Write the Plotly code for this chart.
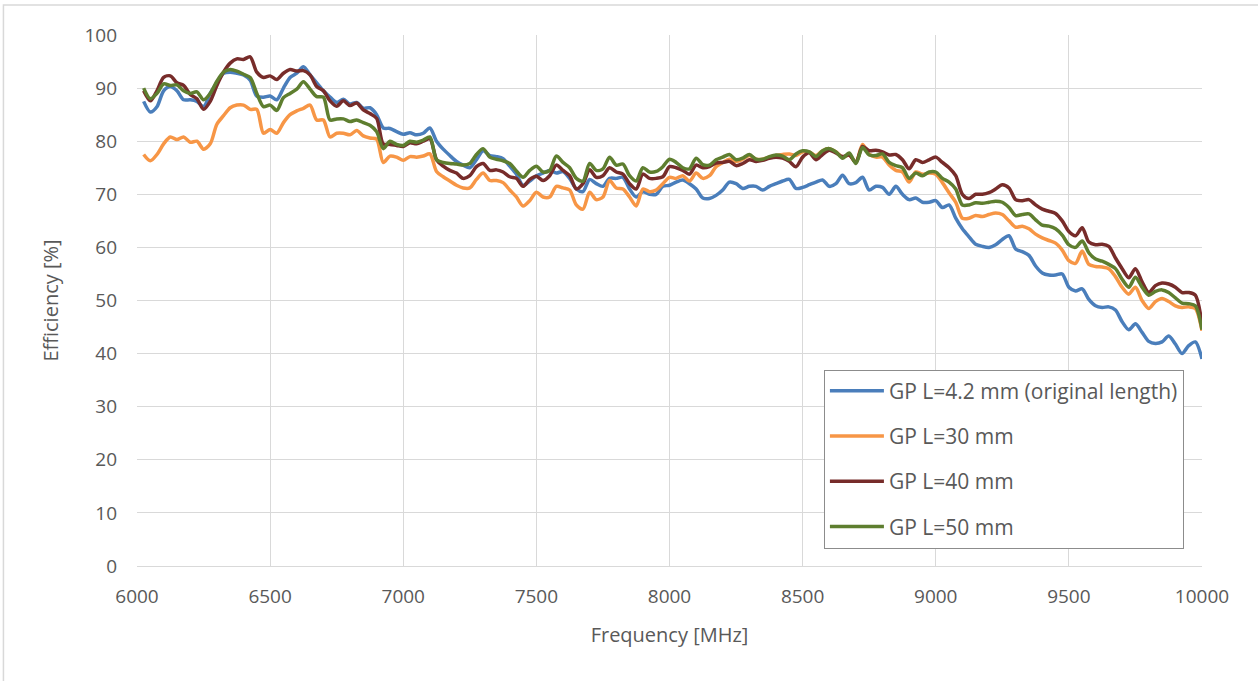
import plotly.graph_objects as go

# frequency sweep grid [MHz], 25 MHz steps
FREQ = list(range(6025, 10001, 25))

GP_4_2 = [
    87.5, 85.5, 86.5, 89.5, 90.3, 89.5, 87.8, 87.8, 87.5, 86.5, 89.0, 91.0,
    92.8, 93.0, 92.8, 92.5, 91.5, 88.5, 88.3, 88.5, 87.8, 90.0, 92.0, 92.8,
    94.0, 92.5, 91.0, 89.5, 88.3, 87.3, 87.9, 87.0, 87.3, 86.2, 86.3, 85.0,
    82.5, 82.4, 81.8, 81.3, 81.6, 81.2, 81.5, 82.5, 80.0, 78.5, 77.3, 76.2,
    75.5, 75.0, 76.5, 78.2, 77.3, 77.1, 76.7, 75.3, 73.8, 71.7, 72.5, 73.5,
    74.0, 74.5, 74.0, 74.3, 73.0, 71.0, 70.5, 72.8, 72.0, 71.5, 73.0, 73.0,
    73.2, 71.0, 69.5, 70.5, 70.0, 70.0, 71.5, 71.7, 72.3, 72.7, 72.0, 71.0,
    69.3, 69.2, 69.8, 70.8, 72.3, 72.0, 71.1, 71.5, 71.5, 70.8, 71.5, 72.0,
    72.5, 72.8, 71.1, 71.3, 71.8, 72.3, 72.7, 71.5, 72.0, 73.6, 72.0, 72.2,
    73.2, 70.8, 71.5, 71.3, 70.0, 71.5, 70.0, 69.0, 69.3, 68.5, 68.5, 68.8,
    67.5, 68.0, 65.5, 63.5, 62.0, 60.6, 60.2, 60.0, 60.5, 61.5, 62.2, 59.7,
    59.2, 58.5, 56.5, 55.2, 54.8, 54.8, 55.0, 52.5, 51.8, 52.2, 50.2, 49.0,
    48.7, 48.8, 48.2, 46.0, 44.5, 45.6, 44.0, 42.3, 41.9, 42.2, 43.3, 41.8,
    40.0, 41.5, 42.2, 39.0,
]

GP_30 = [
    77.5, 76.3, 77.5, 79.5, 80.8, 80.3, 80.8, 79.8, 80.0, 78.5, 79.5, 83.2,
    84.8, 86.3, 86.8, 86.8, 86.0, 86.0, 81.5, 82.2, 81.5, 83.5, 85.0, 85.7,
    86.2, 86.8, 84.0, 84.0, 80.8, 81.5, 81.5, 81.2, 82.0, 81.0, 80.6, 80.4,
    76.0, 77.2, 77.0, 76.4, 77.1, 77.0, 77.2, 77.6, 74.3, 73.3, 72.5, 71.7,
    71.2, 71.2, 72.8, 74.0, 72.6, 72.6, 72.2, 70.8, 69.5, 67.8, 68.8, 70.4,
    69.5, 69.5, 71.5, 71.2, 70.8, 68.0, 67.2, 70.4, 69.0, 69.5, 72.6, 71.2,
    71.0, 69.5, 67.8, 71.0, 70.5, 70.8, 72.0, 73.2, 73.0, 73.5, 72.5, 74.0,
    73.0, 73.5, 75.2, 76.0, 76.6, 76.2, 76.6, 77.3, 76.6, 76.6, 77.0, 77.3,
    77.5, 77.6, 77.3, 78.0, 78.0, 77.3, 78.2, 78.6, 78.0, 77.0, 77.4, 76.0,
    79.4, 77.5, 77.0, 77.0, 75.5, 74.5, 74.2, 72.3, 74.2, 73.8, 74.0, 73.8,
    72.2, 70.3, 68.5, 65.5, 65.5, 66.0, 65.8, 66.2, 66.5, 66.2, 65.0, 63.8,
    64.0, 63.5, 62.5, 61.8, 61.3, 60.8, 59.5, 57.5, 57.0, 59.3, 56.8, 56.4,
    56.3, 56.0, 54.5, 52.5, 51.2, 52.5, 50.0, 48.5, 49.8, 50.4, 49.8, 49.0,
    48.7, 48.8, 48.5, 44.3,
]

GP_40 = [
    89.5, 87.6, 89.5, 92.0, 92.3, 91.0, 90.5, 88.8, 88.0, 86.0, 87.5, 90.5,
    93.0, 94.7, 95.5, 95.4, 95.9, 93.0, 92.0, 92.3, 91.6, 92.8, 93.5, 93.2,
    93.3, 92.5, 90.3, 89.5, 87.6, 86.6, 87.6, 86.7, 87.2, 85.9, 85.2, 84.3,
    79.5, 79.4, 79.2, 79.0, 79.7, 79.5, 80.0, 80.5, 76.5, 75.3, 74.5, 74.0,
    73.0, 73.5, 75.2, 75.8, 74.5, 74.6, 74.2, 73.3, 73.0, 71.5, 72.8, 73.4,
    72.6, 73.5, 75.5, 74.5, 73.5, 71.0, 72.0, 74.6, 73.2, 73.5, 75.0, 74.2,
    73.8, 72.0, 71.0, 73.8, 73.0, 73.0, 73.3, 75.2, 75.0, 74.5, 73.8, 75.5,
    75.0, 75.2, 75.9, 76.0, 76.2, 75.4, 75.8, 76.5, 76.2, 76.4, 76.8, 77.0,
    76.8, 76.2, 75.2, 77.0, 77.8, 76.5, 77.5, 78.3, 77.8, 77.1, 77.4, 76.0,
    79.0, 78.2, 78.3, 78.0, 77.4, 77.5, 76.5, 74.8, 76.5, 76.0, 76.5, 77.0,
    76.0, 75.0, 73.5, 70.0, 69.2, 70.0, 70.0, 70.3, 71.0, 71.8, 71.2, 69.0,
    68.8, 69.0, 68.0, 67.2, 66.8, 66.4, 65.0, 63.0, 62.2, 63.7, 61.0, 60.5,
    60.6, 60.2, 58.0, 56.0, 54.3, 56.0, 53.5, 51.5, 52.8, 53.3, 53.1, 52.5,
    51.5, 51.5, 51.0, 45.5,
]

GP_50 = [
    90.0, 88.0, 89.0, 90.8, 90.5, 90.6, 89.5, 89.0, 89.3, 87.8, 89.0, 91.3,
    93.0, 93.5, 93.2, 92.6, 92.0, 89.0, 86.5, 86.8, 85.8, 88.2, 89.0, 89.8,
    91.2, 89.8, 88.4, 88.3, 84.0, 84.2, 84.2, 83.7, 84.0, 83.5, 83.0, 81.8,
    78.6, 80.0, 79.4, 79.2, 80.0, 79.8, 80.2, 80.8, 76.5, 76.0, 75.8, 75.7,
    75.5, 75.8, 77.5, 78.6, 77.0, 76.6, 76.3, 75.8, 74.4, 73.2, 74.5, 75.3,
    74.2, 74.5, 77.2, 76.0, 75.0, 73.0, 72.5, 75.8, 74.5, 74.8, 77.0, 75.5,
    75.7, 73.5, 72.5, 75.0, 74.2, 74.3, 75.2, 76.6, 76.0, 75.0, 74.8, 76.8,
    75.6, 75.5, 76.5, 77.0, 77.5, 76.5, 76.8, 77.5, 76.6, 76.6, 77.1, 77.4,
    77.2, 76.5, 77.6, 78.2, 78.0, 77.1, 78.2, 78.6, 78.0, 76.8, 77.8, 75.8,
    78.8, 77.4, 77.3, 77.6, 76.0, 75.4, 75.0, 73.0, 74.0, 73.5, 74.2, 74.2,
    73.0, 72.3, 71.0, 68.0, 68.0, 68.4, 68.3, 68.5, 68.7, 68.5, 67.5, 66.0,
    66.2, 66.3, 65.2, 64.2, 64.0, 63.5, 62.3, 60.5, 60.0, 61.2, 59.0, 57.8,
    57.4, 56.8, 56.0, 54.0, 52.5, 54.4, 52.5, 51.0, 51.7, 52.0, 51.5, 50.5,
    49.5, 49.4, 49.0, 44.5,
]

SERIES = [
    ("GP L=4.2 mm (original length)", GP_4_2, "#4a7ebb"),
    ("GP L=30 mm", GP_30, "#f79646"),
    ("GP L=40 mm", GP_40, "#772c2a"),
    ("GP L=50 mm", GP_50, "#5e7e2f"),
]

FONT = "Open Sans, Lato, sans-serif"
GREY = "#595959"

fig = go.Figure()
for i, (name, vals, color) in enumerate(SERIES):
    fig.add_trace(go.Scatter(
        x=FREQ, y=vals, name=name, mode="lines",
        line=dict(color=color, width=3.5, shape="spline", smoothing=0.8),
        legendgroup=f"g{i}",
    ))

fig.update_layout(
    width=1258,
    height=681,
    margin=dict(l=137, r=56, t=35, b=115),
    paper_bgcolor="white",
    plot_bgcolor="white",
    font=dict(family=FONT, size=19, color=GREY),
    legend=dict(
        x=0.645, y=0.370, xanchor="left", yanchor="top",
        bgcolor="white", bordercolor="#8c8c8c", borderwidth=1,
        font=dict(size=21, color=GREY),
        itemwidth=54,
        tracegroupgap=15,
        traceorder="grouped",
    ),
    showlegend=True,
)

fig.update_xaxes(
    range=[6000, 10000],
    tick0=6000, dtick=500, tickformat="d",
    showgrid=True, gridcolor="#d9d9d9", gridwidth=1,
    showline=True, linecolor="#d9d9d9", linewidth=1,
    zeroline=False,
    ticks="", ticklabelstandoff=13,
    title=dict(text="Frequency [MHz]", standoff=20, font=dict(size=20, color=GREY)),
)
fig.update_yaxes(
    range=[0, 100],
    tick0=0, dtick=10,
    showgrid=True, gridcolor="#d9d9d9", gridwidth=1,
    zeroline=False,
    ticks="", ticklabelstandoff=19,
    title=dict(text="Efficiency [%]", standoff=20, font=dict(size=20, color=GREY)),
)

# light outer frame of the chart object
fig.add_shape(
    type="rect", xref="paper", yref="paper",
    x0=-0.1254, x1=1.06, y0=-0.23, y1=1.0566,
    line=dict(color="#d9d9d9", width=1.5), fillcolor="rgba(0,0,0,0)",
    layer="below",
)

# drop the default page margin so the figure sits at the window origin
fig.write_html(
    "out.html",
    config={"displayModeBar": False},
    post_script="document.body.style.margin='0';",
)
